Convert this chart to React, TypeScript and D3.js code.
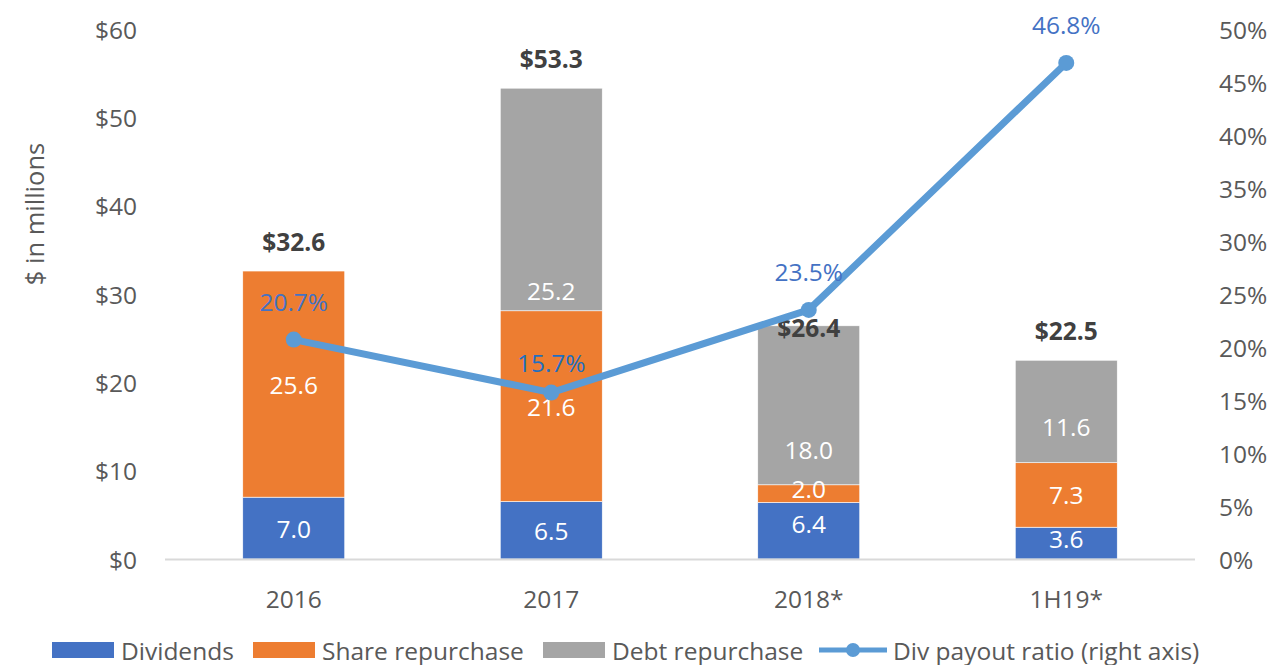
import React from "react";
import * as d3 from "d3";

const categories = ["2016", "2017", "2018*", "1H19*"];
const dividends = [7.0, 6.5, 6.4, 3.6];
const shareRepurchase = [25.6, 21.6, 2.0, 7.3];
const debtRepurchase = [0, 25.2, 18.0, 11.6];
const totals = [32.6, 53.3, 26.4, 22.5];
const payoutRatio = [0.207, 0.157, 0.235, 0.468];
const leftTicks = [0, 10, 20, 30, 40, 50, 60];
const rightTicks = [0, 0.05, 0.1, 0.15, 0.2, 0.25, 0.3, 0.35, 0.4, 0.45, 0.5];

const seriesNames = ["Dividends", "Share repurchase", "Debt repurchase"];
const colors = ["#4472C4", "#ED7D31", "#A5A5A5"];
const lineColor = "#5B9BD5";
const FONT = "'Open Sans', sans-serif";
const FS = 24.5;

export default function App() {
  const W = 1273, H = 665;
  const x = d3.scaleBand<string>().domain(categories).range([165, 1195]).paddingInner(0.604).paddingOuter(0.302);
  const yL = d3.scaleLinear().domain([0, 60]).range([559, 29]);
  const yR = d3.scaleLinear().domain([0, 0.5]).range([559, 29]);

  const rows = categories.map((c, i) => ({ cat: c, d: dividends[i], s: shareRepurchase[i], b: debtRepurchase[i] }));
  const stack = d3.stack<any>().keys(["d", "s", "b"])(rows);

  const line = d3.line<number>()
    .x((_, i) => (x(categories[i]) as number) + x.bandwidth() / 2)
    .y((v) => yR(v));

  // label placement tweaks (render-only), keyed by layer-category index
  const totalNudge: Record<string, number> = { "2018*": 32 };
  const pctNudge: Record<string, number> = { "2017": 8 };
  const segNudge: Record<string, number> = { "2-1": 91, "2-2": 44, "2-3": 15, "0-2": -7, "1-2": -5, "0-3": -5 };

  const cx = (c: string) => (x(c) as number) + x.bandwidth() / 2;

  return (
    <svg width={W} height={H} style={{ position: "absolute", left: 0, top: 0, background: "#fff" }} fontFamily={FONT}>
      {leftTicks.map((t) => (
        <text key={"l" + t} x={137} y={yL(t)} textAnchor="end" dominantBaseline="central" fontSize={FS} fill="#595959">
          {d3.format("$")(t)}
        </text>
      ))}
      {rightTicks.map((t) => (
        <text key={"r" + t} x={1219} y={yR(t)} textAnchor="start" dominantBaseline="central" fontSize={FS} fill="#595959">
          {d3.format(".0%")(t)}
        </text>
      ))}
      <text transform="translate(34,214) rotate(-90)" textAnchor="middle" dominantBaseline="central" fontSize={25.5} fill="#595959">
        $ in millions
      </text>

      {stack.map((layer, li) => (
        <g key={li} fill={colors[li]}>
          {layer.map((seg, i) => (
            seg[1] - seg[0] > 0 ? (
              <rect key={i} x={x(categories[i])} y={yL(seg[1])} width={x.bandwidth()} height={yL(seg[0]) - yL(seg[1])} stroke="#fff" strokeWidth={0.6} />
            ) : null
          ))}
        </g>
      ))}

      <line x1={165} x2={1195} y1={559.5} y2={559.5} stroke="#D9D9D9" strokeWidth={2} />

      {stack.map((layer, li) => (
        <g key={"sl" + li}>
          {layer.map((seg, i) => (
            seg[1] - seg[0] > 0 ? (
              <text key={i} x={cx(categories[i])} y={yL((seg[0] + seg[1]) / 2) + (segNudge[li + "-" + i] || 0)} textAnchor="middle" dominantBaseline="central" fontSize={FS} fill="#fff">
                {d3.format(".1f")(seg[1] - seg[0])}
              </text>
            ) : null
          ))}
        </g>
      ))}

      {categories.map((c, i) => (
        <text key={"t" + c} x={cx(c)} y={yL(totals[i]) - 30 + (totalNudge[c] || 0)} textAnchor="middle" dominantBaseline="central" fontSize={FS} fontWeight="bold" fill="#404040">
          {"$" + d3.format(".1f")(totals[i])}
        </text>
      ))}

      {categories.map((c) => (
        <text key={"c" + c} x={cx(c)} y={598} textAnchor="middle" dominantBaseline="central" fontSize={FS} fill="#595959">
          {c}
        </text>
      ))}

      <path d={line(payoutRatio) || ""} fill="none" stroke={lineColor} strokeWidth={7} strokeLinejoin="round" />
      {payoutRatio.map((v, i) => (
        <circle key={"p" + i} cx={cx(categories[i])} cy={yR(v)} r={8} fill={lineColor} />
      ))}
      {payoutRatio.map((v, i) => (
        <text key={"pl" + i} x={cx(categories[i])} y={yR(v) - 38 + (pctNudge[categories[i]] || 0)} textAnchor="middle" dominantBaseline="central" fontSize={FS} fill={categories[i] === "2017" ? "#1F6FC0" : "#4472C4"}>
          {d3.format(".1%")(v)}
        </text>
      ))}

      <g>
        {[52, 253, 543].map((lx, i) => (
          <g key={"lg" + i}>
            <rect x={lx} y={642} width={62} height={16} fill={colors[i]} />
            <text x={lx + 69} y={650} dominantBaseline="central" fontSize={FS} fill="#595959">{seriesNames[i]}</text>
          </g>
        ))}
        <line x1={819} x2={887} y1={650} y2={650} stroke={lineColor} strokeWidth={5} />
        <circle cx={853} cy={650} r={7} fill={lineColor} />
        <text x={893} y={650} dominantBaseline="central" fontSize={FS} fill="#595959">Div payout ratio (right axis)</text>
      </g>
    </svg>
  );
}
